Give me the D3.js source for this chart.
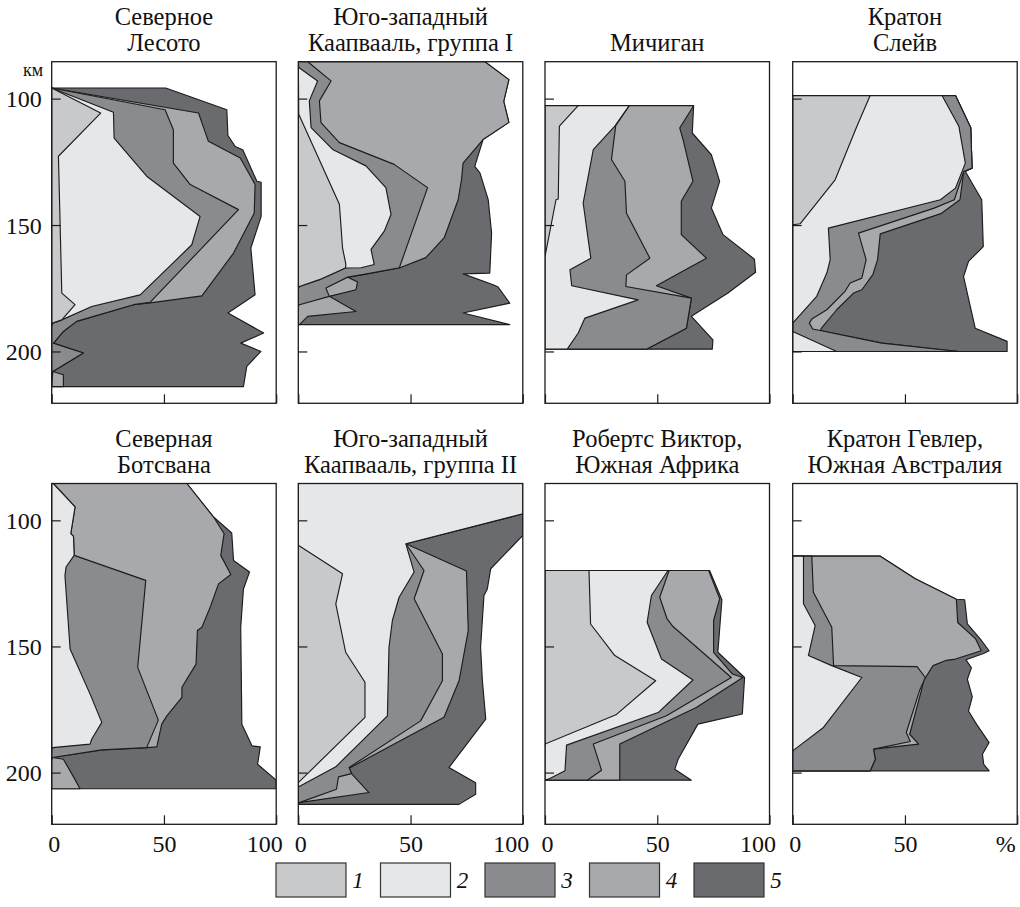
<!DOCTYPE html>
<html><head><meta charset="utf-8">
<script src="https://cdn.jsdelivr.net/npm/d3@7/dist/d3.min.js"></script>
<style>body{margin:0;background:#fff}svg{display:block}</style>
</head><body>
<svg id="c" width="1020" height="907"></svg>
<script>
// ---- legend / categories ----
const layerNames = ["1", "2", "3", "4", "5"];
const layerColors = ["#c8c9cb", "#e6e7e8", "#8a8b8e", "#a8a9ac", "#6a6b6f"];

// ---- panel titles ----
const panelTitles = [
  ["Северное", "Лесото"],
  ["Юго-западный", "Каапвааль, группа I"],
  ["", "Мичиган"],
  ["Кратон", "Слейв"],
  ["Северная", "Ботсвана"],
  ["Юго-западный", "Каапвааль, группа II"],
  ["Робертс Виктор,", "Южная Африка"],
  ["Кратон Гевлер,", "Южная Австралия"]
];

// ---- axes ----
const depthDomain = [85.4, 220.5];
const depthTicks = [100, 150, 200];
const pctTicks = [0, 50, 100];
const pctTickLabelsLast = ["0", "50", "%"];

// ---- data: cumulative boundaries [depth km, cumulative %] for layers 1..5 ----
const northLesotho = [
  [[95.8,0],[105.7,21.8],[122.8,3.0],[176.9,4.5],[181.5,10.4],[187.5,4.5],[188.8,0.4],[190,0]],
  [[95.8,0],[105.4,27.5],[115.6,27.8],[130.7,42.3],[146.6,66.1],[157.8,62.4],[177.6,39.4],[182.2,17.8],[187.5,4.5],[188.8,0.4],[190,0]],
  [[95.8,0],[104.4,50.5],[112.3,54.2],[125.5,54.2],[134.0,61.7],[143.9,83.2],[180.6,43.8],[181.5,36.4],[188.1,11.1],[192.1,5.2],[196.0,1.5],[196.7,0.7],[200.6,14.1],[207.9,0.5],[213.9,0]],
  [[95.8,0],[105.7,65.4],[116.9,69.8],[123.5,84.0],[134.0,90.6],[145.3,90.2],[161.1,81.0],[178.0,66.9],[180.9,43.1],[181.5,36.4],[188.1,11.1],[192.1,5.2],[196.0,1.5],[196.7,0.7],[200.6,14.1],[207.9,0.5],[209.2,5.2],[213.9,5.2]],
  [[95.8,50.8],[104.4,78.0],[114.6,78.5],[118.9,81.7],[120.2,85.1],[132.7,91.4],[133.1,93.3],[146.6,93.3],[155.8,89.9],[159.1,88.7],[177.6,90.6],[184.8,78.5],[192.7,94.4],[196.7,84.2],[200.0,93.2],[205.9,86.9],[213.9,85.4]]
];
const kaapvaalI = [
  [[85.4,0],[106.2,0.2],[141.8,18.3],[159.0,19.7],[165.6,21.2],[167.0,21.0],[171.6,9.4],[174.3,0.5],[175,0]],
  [[85.4,0],[87.7,0.2],[93.0,8.6],[100.9,4.9],[111.5,5.7],[120.1,15.3],[126.6,30.1],[135.2,39.0],[145.8,41.3],[152.4,38.3],[159.6,32.4],[165.6,33.8],[166.9,27.9],[167.0,21.0],[171.6,9.4],[174.3,0.5],[175,0]],
  [[85.4,4.2],[93.0,14.6],[100.9,9.4],[109.5,10.1],[117.4,18.3],[126.0,42.7],[135.2,57.6],[166.9,45.0],[169.6,28.7],[170.6,22.0],[174.9,12.3],[178.2,13.8],[181.5,0.5],[182,0]],
  [[85.4,83.1],[92.5,93.8],[101.1,91.5],[109.4,93.8],[116.2,82.3],[125.5,73.4],[132.0,72.7],[140.0,71.2],[155.0,65.0],[162.9,56.8],[167.0,45.0],[169.6,28.7],[170.6,22.0],[172.5,26.4],[175.6,25.7],[178.2,13.8],[184.2,25.7],[186.1,4.2],[189.4,0.5]],
  [[85.4,83.1],[92.5,93.8],[101.1,91.5],[109.4,93.8],[116.2,82.3],[126.8,78.6],[129.4,80.9],[140.0,84.6],[153.2,86.1],[169.0,85.3],[169.3,73.4],[173.6,86.8],[174.5,89.0],[180.9,94.2],[184.8,73.4],[189.4,94.2]]
];
const michigan = [
  [[102.8,14.8],[110.9,6.4],[139.7,5.9],[140.0,4.9],[162.4,0]],
  [[102.8,37.5],[110.9,31.1],[120.2,21.5],[141.3,17.0],[163.1,20.4],[167.7,11.1],[174.0,11.9],[179.6,41.5],[186.8,17.8],[192.7,14.8],[199.1,9.9]],
  [[102.8,37.5],[110.7,31.5],[124.1,29.6],[132.7,35.6],[145.3,36.3],[163.1,46.7],[169.7,36.3],[174.3,36.0],[178.9,65.2],[190.8,63.0],[199.1,45.2]],
  [[102.8,66.2],[111.6,60.0],[116.2,61.5],[132.7,65.9],[140.6,60.7],[153.8,60.7],[163.1,71.9],[174.0,49.6],[178.9,65.2],[190.8,63.0],[199.1,45.2]],
  [[102.8,66.2],[113.6,65.6],[122.2,74.1],[132.7,77.8],[143.3,74.1],[153.8,79.3],[163.5,93.3],[168.7,93.8],[176.9,81.5],[186.1,65.2],[195.4,74.8],[199.1,74.5]]
];
const slave = [
  [[98.8,34.5],[110.9,28.6],[132.1,18.9],[149.5,3.3],[149.9,0]],
  [[98.8,66.5],[110.9,74.0],[125.5,76.9],[135.4,72.5],[140.0,65.8],[151.2,15.9],[163.7,16.7],[169.0,15.2],[178.2,10.7],[185.5,3.3],[188.8,0],[192.1,0],[200,19.6]],
  [[98.8,72.5],[111.5,79.3],[127.5,79.9],[128.8,76.2],[140.0,72.0],[143.3,63.0],[153.2,29.3],[163.7,32.7],[171.0,30.8],[172.9,25.6],[176.2,23.3],[183.5,15.2],[187.2,8.5],[188.8,7.4],[191.1,8.9],[191.7,12.2],[196.7,39.7],[200,74.0]],
  [[98.8,72.5],[111.5,79.3],[127.5,79.9],[128.8,76.2],[140.0,74.5],[145.5,66.0],[153.5,39.0],[163.7,37.8],[169.6,35.7],[175.6,30.8],[176.9,27.1],[183.5,19.6],[190.7,12.9],[191.7,12.2],[196.7,39.7],[200,74.0]],
  [[98.8,72.5],[111.5,79.3],[127.5,79.9],[128.8,76.9],[140.0,84.2],[158.5,84.9],[164.4,78.3],[170.4,76.1],[190.8,81.3],[196.0,95.5],[200,95.5]]
];
const northBotswana = [
  [],
  [[85.4,0.7],[94.7,10.4],[105.3,8.5],[106.4,9.7],[113.9,10.0],[118.5,6.4],[121.9,5.9],[151.0,8.2],[168.9,17.1],[180.1,22.3],[186.8,17.8],[188.7,17.1],[190.1,0.4],[191,0]],
  [[85.4,0.7],[94.7,10.4],[105.3,8.5],[106.4,9.7],[113.9,10.0],[123.8,41.9],[158.3,38.3],[179.2,47.5],[190.1,42.3],[191.0,22.3],[194.0,0.4],[195,0]],
  [[85.4,60.2],[98.7,72.1],[105.3,76.8],[113.9,75.3],[121.5,79.8],[125.2,74.3],[134.4,70.6],[142.4,66.9],[143.7,64.9],[157.0,64.3],[166.2,58.0],[170.2,58.0],[177.5,51.3],[180.8,49.0],[189.8,46.8],[190.1,42.3],[191.0,22.3],[194.0,0.4],[194.7,5.2],[201.5,9.6],[206.4,12.6]],
  [[85.4,60.2],[98.7,72.1],[105.0,80.2],[115.9,81.0],[120.5,88.1],[127.2,85.4],[142.4,84.2],[180.8,84.7],[189.4,89.2],[189.8,92.9],[196.7,91.7],[203.0,100],[206.4,100]]
];
const kaapvaalII = [
  [[109.9,0],[121.2,19.7],[133.1,16.7],[152.3,21.1],[164.2,29.7],[178.1,29.7],[204,0]],
  [[85.4,100],[97.4,100],[109.3,47.9],[120.5,51.6],[130.5,44.9],[139.7,41.9],[150.3,40.4],[177.5,39.7],[197.7,16.7],[205.7,0],[206,0]],
  [[85.4,100],[97.4,100],[109.3,47.9],[119.9,56.0],[131.1,51.6],[153.0,64.2],[163.6,64.2],[179.5,54.5],[198.0,22.6],[200.4,23.7],[201.7,17.9],[206.6,17.0],[211.9,0.4],[212.6,0]],
  [[85.4,100],[97.4,100],[109.3,47.9],[120.1,74.9],[143.7,75.7],[163.6,71.6],[178.1,64.9],[198.3,22.6],[200.7,24.0],[207.9,31.5],[211.9,0.4],[212.6,0]],
  [[85.4,100],[97.4,100],[106.0,100],[119.2,85.7],[127.2,84.2],[129.8,82.7],[150.3,81.2],[163.6,82.0],[178.8,83.5],[198.0,67.1],[204.0,79.0],[208.6,79.0],[212.6,71.6]]
];
const robertsVictor = [
  [[119.9,19.6],[141.1,20.3],[153.6,31.1],[163.6,49.3],[177.1,31.6],[188.7,0],[189,0]],
  [[119.9,54.8],[129.8,47.4],[140.4,45.5],[155.0,51.9],[163.3,65.9],[176.2,50.4],[189.1,9.6],[199.3,8.9],[202.6,1.5],[203.0,0]],
  [[119.9,55.3],[130.5,51.1],[139.1,54.4],[142.1,57.0],[162.3,83.0],[177.5,54.1],[188.7,21.5],[199.1,25.2],[203.0,18.8]],
  [[119.9,72.9],[131.1,77.8],[139.7,75.1],[152.3,75.1],[160.9,83.4],[162.3,88.1],[174.2,67.4],[188.7,33.3],[203.0,33.3]],
  [[119.9,73.3],[131.5,78.8],[152.3,77.0],[162.3,88.9],[176.8,87.9],[180.8,68.1],[194.7,59.3],[198.7,57.8],[203.0,65.2]]
];
const gawler = [
  [],
  [[114.2,4.8],[133.1,4.8],[141.7,10.0],[153.6,7.0],[157.6,17.4],[162.3,30.8],[182.1,13.7],[191.4,0],[192,0]],
  [[114.2,8.5],[128.5,9.2],[142.4,17.4],[157.6,18.2],[158.0,55.4],[162.3,59.1],[167.5,56.5],[184.1,50.6],[187.7,52.4],[190.7,36.0],[194.7,36.8],[199.3,34.5]],
  [[114.2,39.0],[123.2,54.6],[131.3,72.9],[140.5,73.5],[147.0,81.5],[151.7,84.0],[155.0,72.5],[155.5,68.5],[157.6,62.5],[163.6,58.3],[167.5,57.3],[184.8,52.1],[188.7,56.1],[190.7,36.0],[194.7,36.8],[199.3,34.5]],
  [[114.2,39.0],[123.2,54.6],[131.3,72.9],[131.5,76.6],[141.0,77.8],[147.0,83.5],[151.7,87.5],[152.8,85.0],[155.3,77.2],[158.5,79.6],[163.0,77.8],[170.0,80.0],[175.6,78.3],[181.0,82.0],[188.1,87.5],[192.7,84.5],[196.7,85.1],[199.3,87.5]]
];

const panels = [northLesotho, kaapvaalI, michigan, slave, northBotswana, kaapvaalII, robertsVictor, gawler];

// ---- layout ----
const colX = [51.7, 298.3, 545, 792.7];
const panelW = 224.5;
const rowY = [61.7, 483.5];
const rowH = [341.6, 340.8];
const serif = "'Liberation Serif', 'DejaVu Serif', serif";
const ink = "#1c1c1c";

const svg = d3.select("#c");

panels.forEach((bounds, i) => {
  const col = i % 4, row = Math.floor(i / 4);
  const left = colX[col], top = rowY[row], h = rowH[row];
  const x = d3.scaleLinear().domain([0, 100]).range([left, left + panelW]);
  const y = d3.scaleLinear().domain(depthDomain).range([top, top + h]);
  const g = svg.append("g");

  const clipId = "clip" + i;
  svg.append("clipPath").attr("id", clipId)
    .append("rect").attr("x", left).attr("y", top).attr("width", panelW).attr("height", h);

  const area = d3.area()
    .x0(x(0))
    .x1(d => x(d[1]))
    .y(d => y(d[0]))
    .curve(d3.curveLinear);

  const ga = g.append("g").attr("clip-path", `url(#${clipId})`);
  for (let k = 4; k >= 0; k--) {
    const b = bounds[k];
    if (!b || !b.length) continue;
    ga.append("path")
      .attr("d", area(b))
      .attr("fill", layerColors[k])
      .attr("stroke", ink)
      .attr("stroke-width", 1.15)
      .attr("stroke-linejoin", "round");
  }

  // left axis (ticks inward)
  const yAxis = d3.axisLeft(y).tickValues(depthTicks).tickSizeInner(-9).tickSizeOuter(0).tickPadding(10)
    .tickFormat(col === 0 ? d3.format("d") : () => "");
  const gy = g.append("g").attr("transform", `translate(${left},0)`).call(yAxis);
  gy.select(".domain").remove();
  gy.selectAll("line").attr("stroke", ink).attr("stroke-width", 1.2);
  gy.selectAll("text").attr("font-family", serif).attr("font-size", 24).attr("fill", "#111").attr("dy", "0.34em");

  // bottom axis (ticks inward)
  const labels = i === 7 ? pctTickLabelsLast : pctTicks.map(String);
  const xAxis = d3.axisBottom(x).tickValues(pctTicks).tickSizeInner(-9).tickSizeOuter(0).tickPadding(11)
    .tickFormat(row === 1 ? (d, j) => labels[j] : () => "");
  const gx = g.append("g").attr("transform", `translate(0,${top + h})`).call(xAxis);
  gx.select(".domain").remove();
  gx.selectAll("line").attr("stroke", ink).attr("stroke-width", 1.2);
  gx.selectAll("text").attr("font-family", serif).attr("font-size", 24).attr("fill", "#111")
    .attr("dx", (d) => d === 0 ? 2 : d === 100 ? -12 : 0);

  // frame
  g.append("rect").attr("x", left).attr("y", top).attr("width", panelW).attr("height", h)
    .attr("fill", "none").attr("stroke", ink).attr("stroke-width", 1.3);

  // title
  const t = panelTitles[i];
  const cx = left + panelW / 2;
  [t[0], t[1]].forEach((line, j) => {
    if (!line) return;
    svg.append("text").attr("x", cx).attr("y", top - 37 + j * 26)
      .attr("text-anchor", "middle").attr("font-family", serif).attr("font-size", 24.5)
      .attr("fill", "#111").text(line);
  });

  if (i === 0) {
    svg.append("text").attr("x", 33).attr("y", 76).attr("text-anchor", "middle")
      .attr("font-family", serif).attr("font-size", 18).attr("fill", "#111").text("км");
  }
});

// ---- legend ----
const legX0 = 276, legPitch = 104.5, legBoxW = 70, legY = 863, legBoxH = 34;
const leg = svg.append("g");
layerNames.forEach((name, k) => {
  const lx = legX0 + k * legPitch;
  leg.append("rect").attr("x", lx).attr("y", legY).attr("width", legBoxW).attr("height", legBoxH)
    .attr("fill", layerColors[k]).attr("stroke", "#333").attr("stroke-width", 1.2);
  leg.append("text").attr("x", lx + legBoxW + 12).attr("y", legY + legBoxH / 2 + 8)
    .attr("text-anchor", "middle").attr("font-family", serif).attr("font-style", "italic")
    .attr("font-size", 23).attr("fill", "#111").text(name);
});
</script>
</body></html>
